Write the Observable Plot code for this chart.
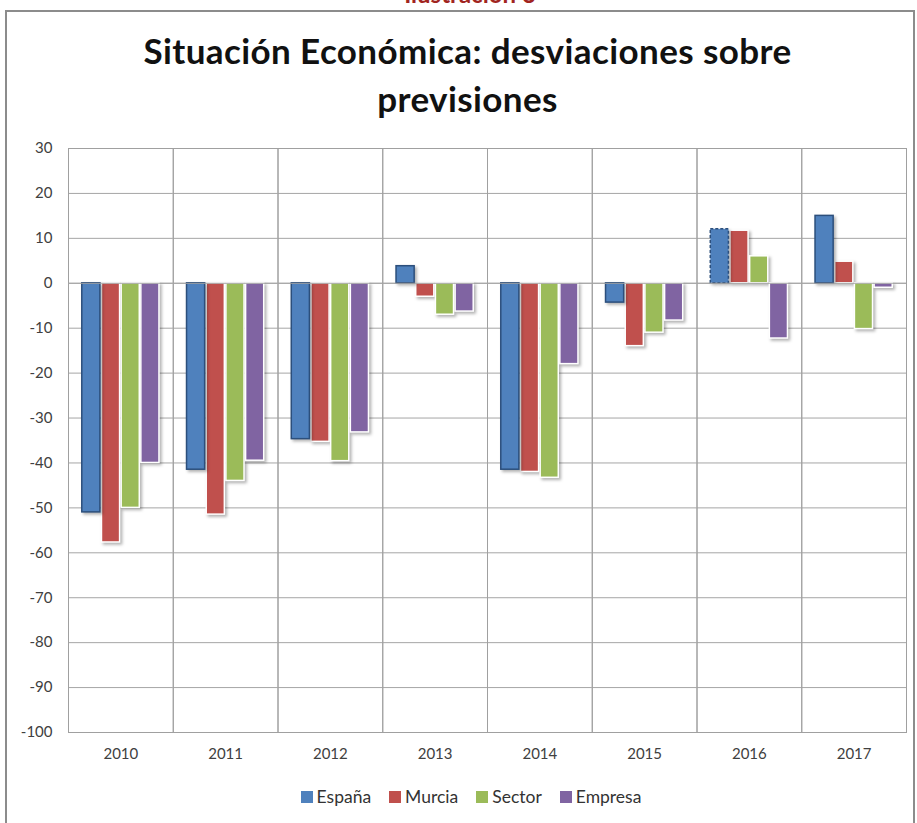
<!DOCTYPE html>
<html>
<head>
<meta charset="utf-8">
<script src="https://cdn.jsdelivr.net/npm/d3@7"></script>
<script src="https://cdn.jsdelivr.net/npm/@observablehq/plot@0.6"></script>
<style>
  html, body { margin: 0; padding: 0; background: #fff; }
  body { width: 917px; height: 823px; position: relative; overflow: hidden; font-family: Lato, "Open Sans", sans-serif; }
  #frame { position: absolute; left: 5px; top: 10px; width: 910px; height: 900px; border: 2px solid #8c8c8c; box-sizing: border-box; }
  #label { position: absolute; left: 0; width: 940px; top: -21px; text-align: center; color: #a1251f; font-weight: bold; font-size: 24px; }
  #title { position: absolute; left: 0; width: 935px; top: 26px; text-align: center; font-weight: bold; font-size: 35px; letter-spacing: 0.4px; line-height: 48px; color: #111; }
  #chart { position: absolute; left: 0; top: 130px; }
  #legend { position: absolute; left: 0; width: 942px; top: 786px; display: flex; justify-content: center; gap: 18px; font-size: 17.5px; color: #333; }
  #legend .item { display: flex; align-items: center; gap: 4px; }
  #legend .sw { width: 12px; height: 12px; display: inline-block; }
</style>
</head>
<body>
<div id="label">Ilustración 3</div>
<div id="frame"></div>
<div id="title">Situación Económica: desviaciones sobre<br>previsiones</div>
<div id="chart"></div>
<div id="legend"></div>
<script>
const years = ["2010", "2011", "2012", "2013", "2014", "2015", "2016", "2017"];
const series = ["España", "Murcia", "Sector", "Empresa"];
const espana  = [-51, -41.5, -34.7, 3.8, -41.5, -4.3, 12, 15];
const murcia  = [-57.7, -51.5, -35.3, -3, -42, -14, 11.7, 4.8];
const sector  = [-50, -44, -39.6, -7, -43.3, -11, 6, -10.2];
const empresa = [-40, -39.5, -33.2, -6.3, -18, -8.3, -12.3, -1];
const colors = ["#4f81bd", "#c0504d", "#9bbb59", "#8064a2"];
const yTicks = [30, 20, 10, 0, -10, -20, -30, -40, -50, -60, -70, -80, -90, -100];

const valuesBySeries = [espana, murcia, sector, empresa];
const rows = [];
years.forEach((y, i) => series.forEach((s, j) => rows.push({year: y, series: s, value: valuesBySeries[j][i]})));

const dashedYear = "2016";
const isEsp = d => d.series === "España";

const chart = Plot.plot({
  width: 917,
  height: 640,
  marginLeft: 68,
  marginRight: 11,
  marginTop: 18,
  marginBottom: 38,
  style: {fontFamily: "Lato, 'Open Sans', sans-serif", fontSize: "15px", color: "#404040", background: "transparent"},
  fx: {domain: years, padding: 0, round: false, label: null, axis: "bottom", tickSize: 0, tickPadding: 16},
  x: {domain: series, axis: null, paddingInner: 0.08, paddingOuter: 0.7, round: false},
  y: {domain: [-100, 30], ticks: yTicks, tickSize: 0, tickPadding: 16, label: null, tickFormat: d => String(d)},
  color: {domain: series, range: colors},
  marks: [
    Plot.ruleY(yTicks, {stroke: "#a6a6a6", strokeWidth: 1}),
    Plot.frame({stroke: "#a0a0a0", strokeWidth: 1}),
    Plot.barY(rows.filter(d => !isEsp(d)), {fx: "year", x: "series", y: "value", fill: "series", stroke: "white", strokeWidth: 1.5}),
    Plot.barY(rows.filter(d => isEsp(d) && d.year !== dashedYear), {fx: "year", x: "series", y: "value", fill: "series", stroke: "#2c4f7c", strokeWidth: 1.5}),
    Plot.barY(rows.filter(d => isEsp(d) && d.year === dashedYear), {fx: "year", x: "series", y: "value", fill: "series", stroke: "#2c4f7c", strokeWidth: 1.5, strokeDasharray: "3,2"}),
    Plot.ruleY([0], {stroke: "#a6a6a6", strokeWidth: 1})
  ]
});
chart.querySelectorAll('g[aria-label="bar"]').forEach(g => g.style.filter = "drop-shadow(2px 2px 1.5px rgba(0,0,0,0.3))");
document.getElementById("chart").appendChild(chart);

const legend = document.getElementById("legend");
series.forEach((s, i) => {
  const it = document.createElement("div");
  it.className = "item";
  it.innerHTML = `<span class="sw" style="background:${colors[i]}"></span><span>${s}</span>`;
  legend.appendChild(it);
});
</script>
</body>
</html>
